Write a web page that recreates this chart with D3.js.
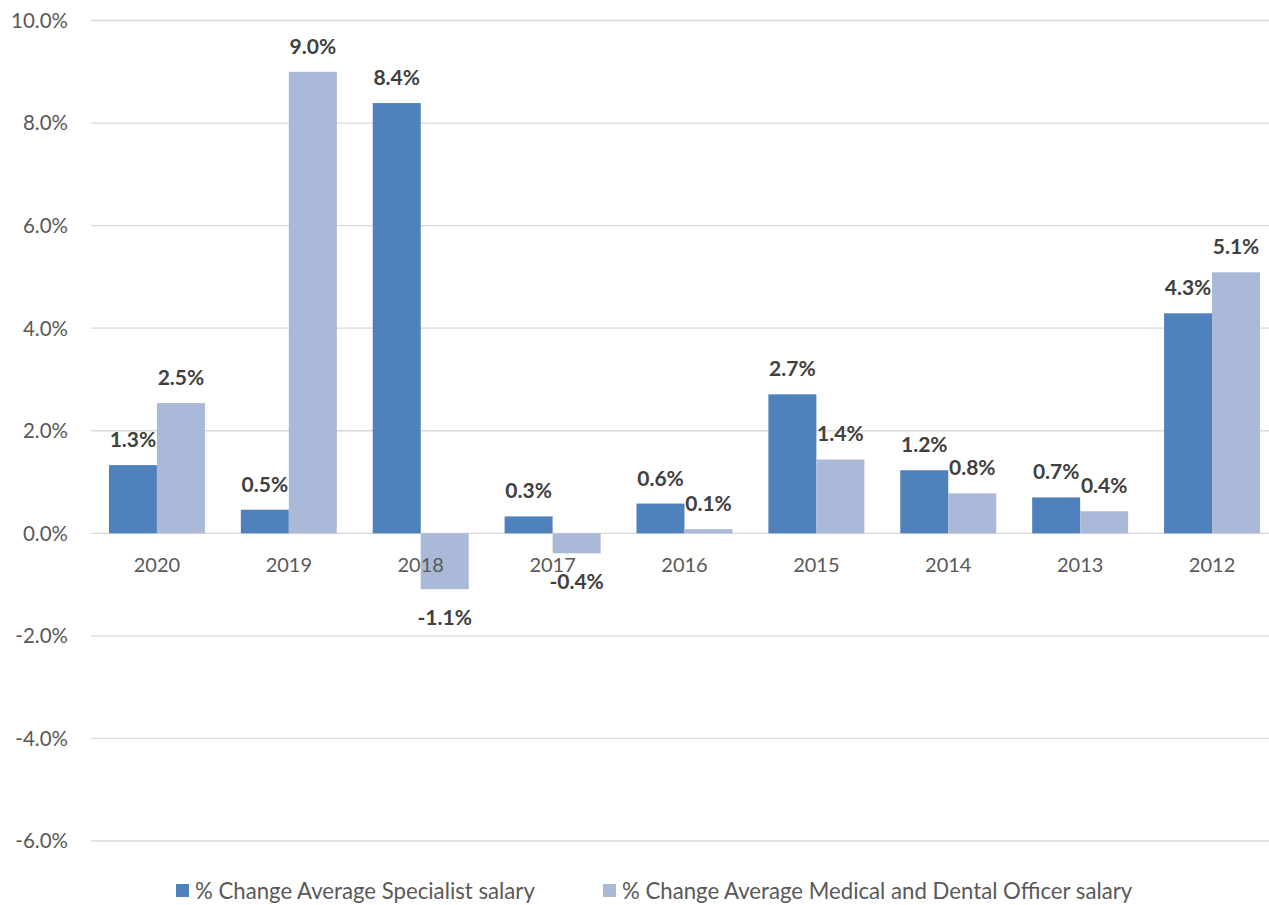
<!DOCTYPE html>
<html>
<head>
<meta charset="utf-8">
<script src="https://cdn.jsdelivr.net/npm/d3@7"></script>
<style>
  html, body { margin: 0; padding: 0; background: #fff; }
  svg { display: block; font-family: Lato, "Open Sans", sans-serif; }
</style>
</head>
<body>
<svg id="chart" width="1269" height="905"></svg>
<script>
const categories = ["2020", "2019", "2018", "2017", "2016", "2015", "2014", "2013", "2012"];
const seriesNames = ["% Change Average Specialist salary", "% Change Average Medical and Dental Officer salary"];
const specialist = [1.33, 0.46, 8.39, 0.33, 0.58, 2.71, 1.23, 0.70, 4.29];
const medicalDental = [2.54, 9.0, -1.09, -0.39, 0.08, 1.44, 0.78, 0.43, 5.09];
const yTicks = [-6, -4, -2, 0, 2, 4, 6, 8, 10];
const colors = ["#4f81bd", "#aab9d8"];

const svg = d3.select("#chart");
const margin = { left: 91, right: -9, top: 20.5, bottom: 64 };
const W = 1269, H = 905;

const y = d3.scaleLinear().domain([-6, 10]).range([H - margin.bottom, margin.top]);
const x0 = d3.scaleBand().domain(categories).range([margin.left, W - margin.right]).padding(0);
const x1 = d3.scaleBand().domain([0, 1]).range([0, x0.bandwidth()]).paddingInner(0).paddingOuter(0.374);

// gridlines
svg.append("g").selectAll("line").data(yTicks).join("line")
  .attr("x1", margin.left).attr("x2", W - margin.right)
  .attr("y1", d => y(d)).attr("y2", d => y(d))
  .attr("stroke", "#d9d9d9").attr("stroke-width", 1.3);

// y tick labels
svg.append("g").selectAll("text").data(yTicks).join("text")
  .attr("x", 68).attr("y", d => y(d)).attr("dy", "0.36em")
  .attr("text-anchor", "end").attr("fill", "#595959").attr("font-size", 20.5)
  .text(d => d.toFixed(1) + "%");

const data = categories.map((c, i) => ({ cat: c, vals: [specialist[i], medicalDental[i]] }));

const groups = svg.append("g").selectAll("g").data(data).join("g")
  .attr("transform", d => `translate(${x0(d.cat)},0)`);

groups.selectAll("rect").data(d => d.vals.map((v, s) => ({ v, s }))).join("rect")
  .attr("x", d => x1(d.s)).attr("width", x1.bandwidth())
  .attr("y", d => y(Math.max(0, d.v)))
  .attr("height", d => Math.abs(y(d.v) - y(0)))
  .attr("fill", d => colors[d.s]);

// category labels (drawn over bars)
svg.append("g").selectAll("text").data(categories).join("text")
  .attr("x", d => x0(d) + x0.bandwidth() / 2).attr("y", y(0) + 39)
  .attr("text-anchor", "middle").attr("fill", "#595959").attr("font-size", 20)
  .text(d => d);

// data labels
groups.selectAll("text.lbl").data(d => d.vals.map((v, s) => ({ v, s }))).join("text")
  .attr("class", "lbl")
  .attr("x", d => x1(d.s) + x1.bandwidth() / 2)
  .attr("y", d => d.v >= 0 ? y(d.v) - 18 : y(d.v) + 36)
  .attr("text-anchor", "middle").attr("fill", "#404040")
  .attr("font-size", 21).attr("font-weight", "bold")
  .text(d => d.v.toFixed(1) + "%");

// legend
const legendX = [176, 603];
const lg = svg.append("g").selectAll("g").data(seriesNames).join("g")
  .attr("transform", (d, i) => `translate(${legendX[i]},884)`);
lg.append("rect").attr("width", 13).attr("height", 13).attr("fill", (d, i) => colors[i]);
lg.append("text").attr("x", 19).attr("y", 6.5).attr("dy", "0.36em")
  .attr("fill", "#595959").attr("font-size", 22.2).text(d => d);
</script>
</body>
</html>
